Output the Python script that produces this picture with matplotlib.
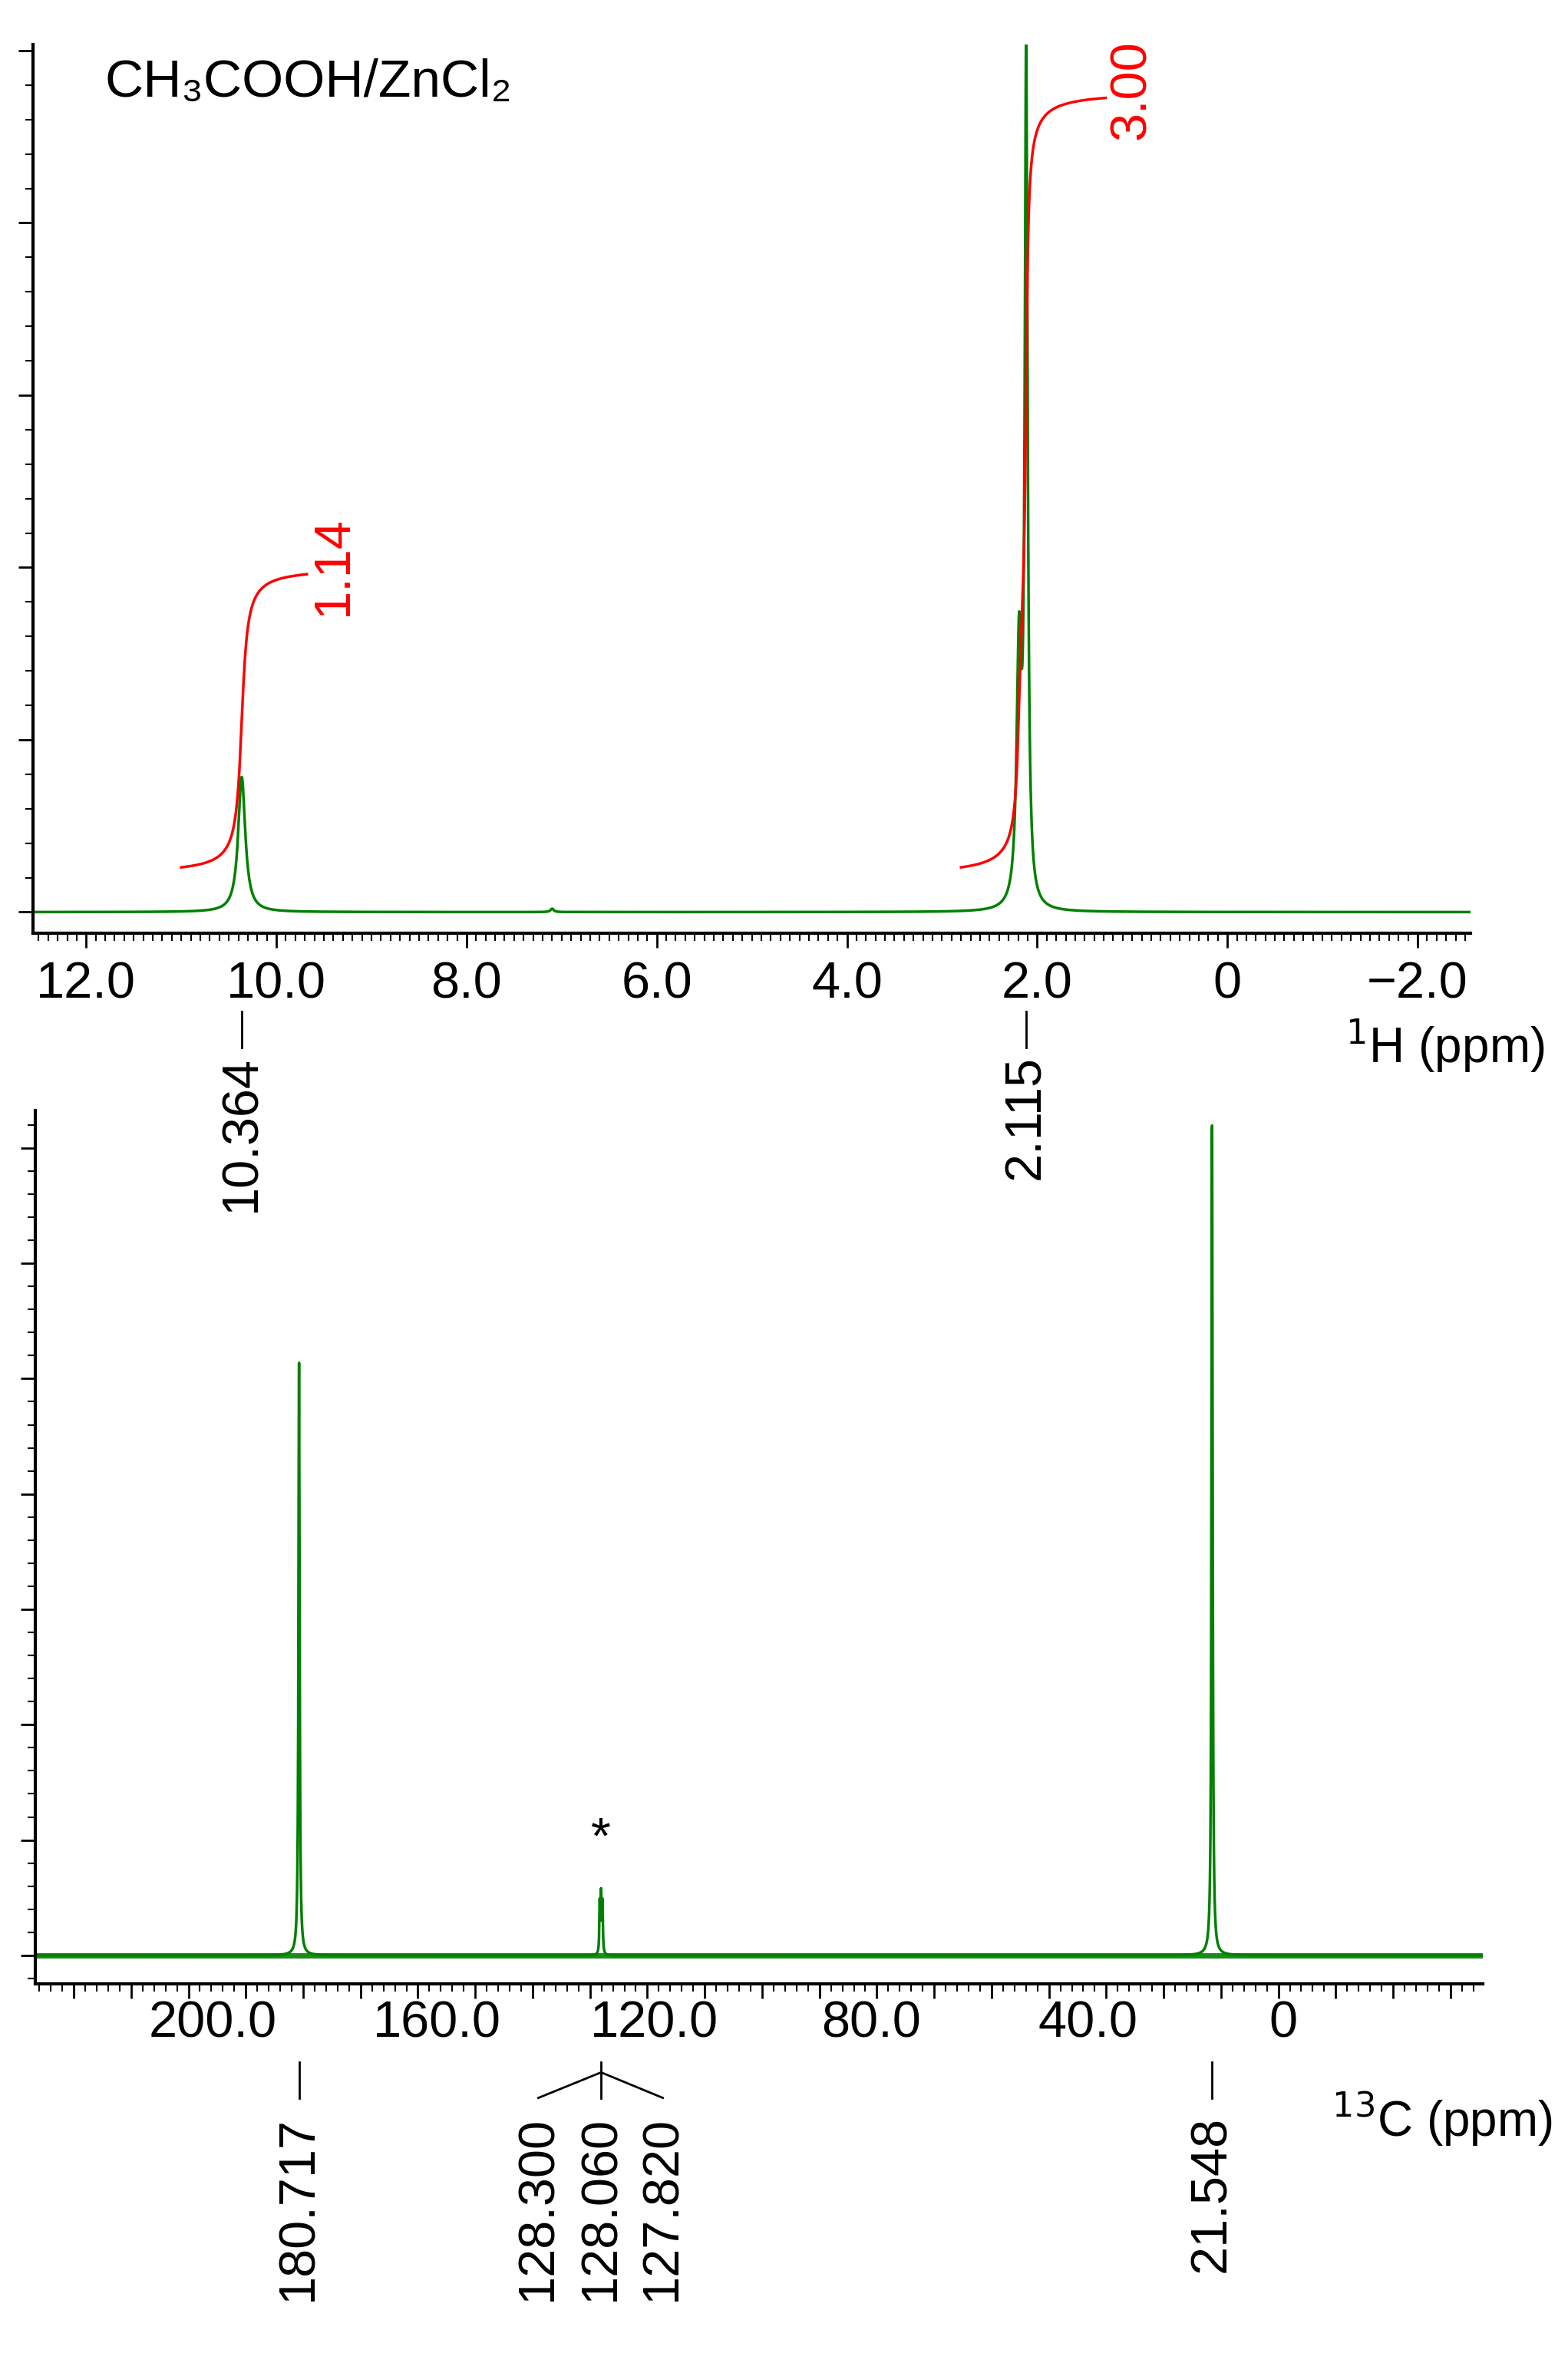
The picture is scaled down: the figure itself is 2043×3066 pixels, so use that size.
import numpy as np
import matplotlib
matplotlib.use("Agg")
import matplotlib.pyplot as plt
from matplotlib.ticker import MultipleLocator
import matplotlib.transforms as mtrans

plt.rcParams['font.family'] = ['Liberation Sans', 'DejaVu Sans']

# ---- data: 1H peaks (ppm, relative height, half width ppm)
h_pos = [10.364, 2.115, 2.19, 7.10]
h_hgt = [0.16, 1.0, 0.30, 0.004]
h_wid = [0.045, 0.018, 0.03, 0.02]
h_labels = ["10.364", "2.115"]
h_label_pos = [10.364, 2.115]
# integrals: (start, end, value)
int_start = [11.0, 2.8]
int_end = [9.68, 1.28]
int_vals = ["1.14", "3.00"]
int_lo = [0.053, 0.053]
int_hi = [0.40, 0.964]
h_ticks = [12.0, 10.0, 8.0, 6.0, 4.0, 2.0, 0.0, -2.0]
h_ticklabels = ["12.0", "10.0", "8.0", "6.0", "4.0", "2.0", "0", "\u22122.0"]

# ---- data: 13C peaks
c_pos = [180.717, 128.300, 128.060, 127.820, 21.548]
c_hgt = [0.714, 0.060, 0.069, 0.060, 1.0]
c_wid = [0.12, 0.08, 0.08, 0.08, 0.12]
c_ticklabels = ["200.0", "160.0", "120.0", "80.0", "40.0", "0"]
c_ticklabel_pos = [195.8, 156.7, 118.8, 81.0, 43.2, 9.2]

green = "#008000"
red = "#ff0000"

def lor(x, p, h, w):
    return h / (1 + ((x - p) / w) ** 2)

W, H = 2043, 3066
fig = plt.figure(figsize=(W / 100, H / 100), dpi=100)

# ---------- top: 1H
ax1 = fig.add_axes([0.021, 0.6034, 0.917, 0.3776])
x = np.linspace(-2.56, 12.56, 30000)
y = np.zeros_like(x)
for p, hh, w in zip(h_pos, h_hgt, h_wid):
    y += lor(x, p, hh, w)
ax1.plot(x, y, color=green, lw=2.5)
for s, e, lo, hi, v in zip(int_start, int_end, int_lo, int_hi, int_vals):
    xi = np.linspace(e, s, 3000)
    yi = np.zeros_like(xi)
    for p, hh, w in zip(h_pos, h_hgt, h_wid):
        yi += lor(xi, p, hh, w)
    c = np.cumsum(yi[::-1])[::-1]
    c = (c - c.min()) / (c.max() - c.min())
    ax1.plot(xi, lo + (hi - lo) * c, color=red, lw=2.5)
    ax1.text(e - 0.28, hi + 0.01, v, rotation=90, color=red, fontsize=48,
             ha='center', va='center')
ax1.set_xlim(12.56, -2.56)
ax1.set_ylim(-0.025, 1.027)
ax1.set_xticks(h_ticks)
ax1.set_xticklabels(h_ticklabels)
ax1.xaxis.set_minor_locator(MultipleLocator(0.1))
ax1.yaxis.set_major_locator(MultipleLocator(0.204))
ax1.yaxis.set_minor_locator(MultipleLocator(0.0408))
ax1.set_yticklabels([])
ax1.text(0.05, 0.985, "CH\u2083COOH/ZnCl\u2082", transform=ax1.transAxes,
         fontsize=50, va='top', ha='left')

# ---------- bottom: 13C
ax2 = fig.add_axes([0.0225, 0.157, 0.923, 0.371])
xc = np.linspace(-25.6, 226.7, 60000)
yc = np.zeros_like(xc)
for p, hh, w in zip(c_pos, c_hgt, c_wid):
    yc += lor(xc, p, hh, w)
ax2.plot(xc, yc, color=green, lw=2.5)
ax2.plot([226.7, -25.6], [0, 0], color=green, lw=5, alpha=0.9)
ax2.set_xlim(226.7, -25.6)
ax2.set_ylim(-0.034, 1.018)
ax2.xaxis.set_major_locator(MultipleLocator(10))
ax2.xaxis.set_minor_locator(MultipleLocator(2))
ax2.set_xticklabels([])
ax2.yaxis.set_major_locator(MultipleLocator(0.139))
ax2.yaxis.set_minor_locator(MultipleLocator(0.0278))
ax2.set_yticklabels([])
ax2.text(128.06, 0.11, "*", fontsize=48, ha='center', va='bottom')

for ax in (ax1, ax2):
    for sp in ('top', 'right'):
        ax.spines[sp].set_visible(False)
    for sp in ('left', 'bottom'):
        ax.spines[sp].set_linewidth(3)
    ax.tick_params(which='major', length=14, width=2, labelsize=48, pad=12)
    ax.tick_params(which='minor', length=7, width=1.5)

def fy(yd):
    return 1 - yd / 1568.0

tr1 = mtrans.blended_transform_factory(ax1.transData, fig.transFigure)
tr2 = mtrans.blended_transform_factory(ax2.transData, fig.transFigure)

for lbl, pos in zip(h_labels, h_label_pos):
    fig.add_artist(plt.Line2D([pos, pos], [fy(674), fy(698)], transform=tr1,
                              color='black', lw=2))
    fig.text(pos, fy(703), lbl, transform=tr1, rotation=90, fontsize=48,
             ha='center', va='top')
fig.text(0.985, fy(697), "$^{1}$H (ppm)", fontsize=46, ha='right', va='center')

for lbl, pos in zip(c_ticklabels, c_ticklabel_pos):
    fig.text(pos, fy(1333), lbl, transform=tr2, fontsize=48, ha='center', va='top')

# 13C peak labels
fig.add_artist(plt.Line2D([180.717] * 2, [fy(1374), fy(1398)], transform=tr2, color='black', lw=2))
fig.text(180.717, fy(1410), "180.717", transform=tr2, rotation=90, fontsize=48, ha='center', va='top')
fig.add_artist(plt.Line2D([21.548] * 2, [fy(1374), fy(1398)], transform=tr2, color='black', lw=2))
fig.text(21.548, fy(1410), "21.548", transform=tr2, rotation=90, fontsize=48, ha='center', va='top')
trip_lbl = ["128.300", "128.060", "127.820"]
trip_x = [139.0, 128.06, 117.3]
fig.add_artist(plt.Line2D([128.06, 128.06], [fy(1374), fy(1398)], transform=tr2, color='black', lw=2))
for lx, lb in zip(trip_x, trip_lbl):
    if lb != "128.060":
        fig.add_artist(plt.Line2D([128.06, lx], [fy(1381), fy(1398)], transform=tr2, color='black', lw=2))
    fig.text(lx, fy(1410), lb, transform=tr2, rotation=90, fontsize=48, ha='center', va='top')
fig.text(0.99, fy(1412), "$^{13}$C (ppm)", fontsize=46, ha='right', va='center')

fig.savefig("out.png", dpi=100)
